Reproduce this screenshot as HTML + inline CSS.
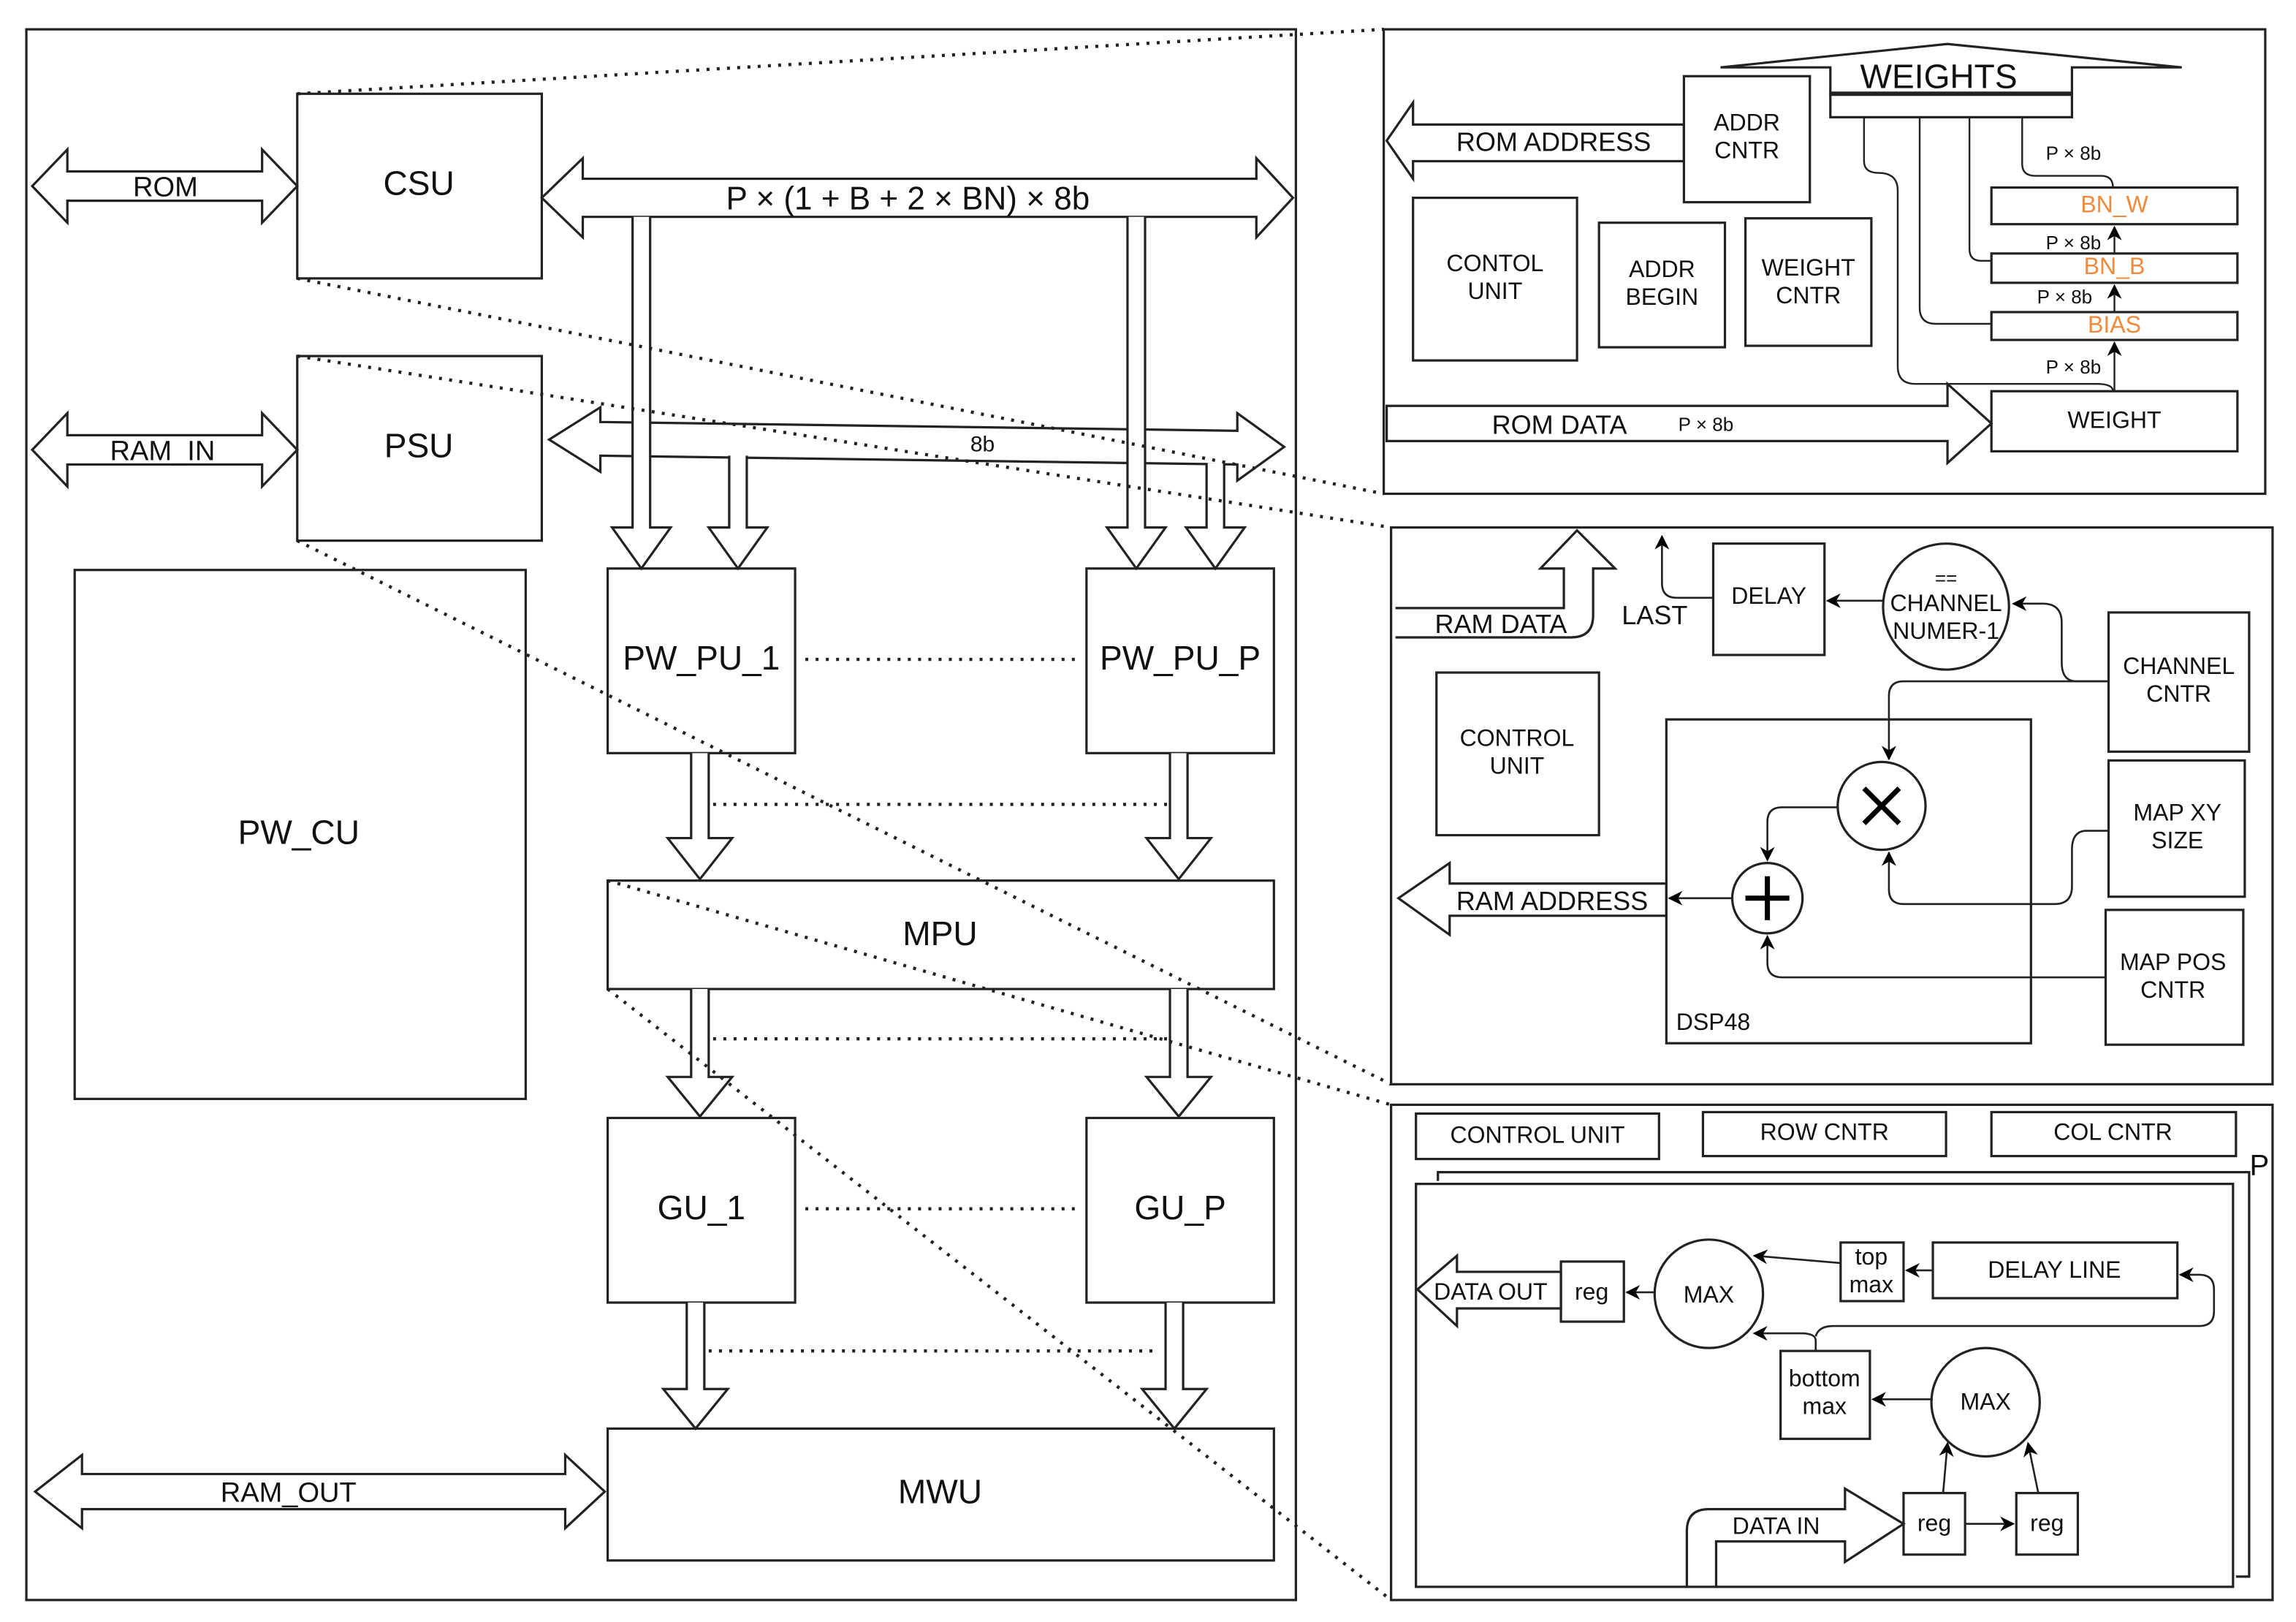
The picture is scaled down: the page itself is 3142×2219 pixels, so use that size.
<!DOCTYPE html>
<html><head><meta charset="utf-8"><style>
html,body{margin:0;padding:0;background:#fff;}
svg{display:block;}
text{font-family:"Liberation Sans",sans-serif;fill:#111;}
</style></head><body>
<svg width="3142" height="2219" viewBox="0 0 1568 1107" preserveAspectRatio="none" xmlns="http://www.w3.org/2000/svg">
<defs>
<marker id="ah" markerWidth="10" markerHeight="10" refX="9" refY="5" orient="auto" markerUnits="userSpaceOnUse"><path d="M0,0 L10,5 L0,10 L3,5 z" fill="#000"/></marker>
</defs>
<g fill="none" stroke="#222" stroke-width="1.6">
<rect x="18" y="20" width="867" height="1072"/>
<rect x="203" y="64" width="167" height="126"/>
<rect x="203" y="243" width="167" height="126"/>
<rect x="51" y="389" width="308" height="361"/>
<rect x="415" y="388" width="128" height="126"/>
<rect x="742" y="388" width="128" height="126"/>
<rect x="415" y="601" width="455" height="74"/>
<rect x="415" y="763" width="128" height="126"/>
<rect x="742" y="763" width="128" height="126"/>
<rect x="415" y="975" width="455" height="90"/>
<path d="M22,127 L46,102 V117 H179 V102 L203,127 L179,152 V137 H46 V152 Z"/>
<path d="M22,307 L46,282 V297 H179 V282 L203,307 L179,332 V317 H46 V317 V332 Z"/>
<path d="M24,1018 L56,993 V1006 H386 V993 L413,1018 L386,1043 V1030 H56 V1043 Z"/>
<path d="M370,135 L398,108 V122 H858 V108 L883,135 L858,162 V148 H398 V162 Z" fill="#fff"/>
<path d="M375,300 L410,278 V288 L845,294 V282 L877,305 L845,328 V317 L410,311 V322 Z" fill="#fff"/>
<path d="M432,148 V360 H418 L438,388 L458,360 H444 V148" fill="#fff"/>
<path d="M770,148 V360 H756 L776,388 L796,360 H782 V148" fill="#fff"/>
<path d="M498,311 V360 H484 L504,388 L524,360 H510 V311" fill="#fff"/>
<path d="M824,316 V360 H810 L830,388 L850,360 H836 V316" fill="#fff"/>
<path d="M472,514 V572 H456 L478,600 L500,572 H484 V514" fill="#fff"/>
<path d="M799,514 V572 H783 L805,600 L827,572 H811 V514" fill="#fff"/>
<path d="M472,675 V735 H456 L478,762 L500,735 H484 V675" fill="#fff"/>
<path d="M799,675 V735 H783 L805,762 L827,735 H811 V675" fill="#fff"/>
<path d="M469,889 V948 H453 L475,975 L497,948 H481 V889" fill="#fff"/>
<path d="M796,889 V948 H780 L802,975 L824,948 H808 V889" fill="#fff"/>
</g>
<g stroke="#222" stroke-width="2.2" stroke-dasharray="2,5" fill="none">
<line x1="550" y1="450" x2="735" y2="450"/>
<line x1="487" y1="549" x2="800" y2="549"/>
<line x1="487" y1="709" x2="800" y2="709"/>
<line x1="550" y1="825" x2="735" y2="825"/>
<line x1="484" y1="922" x2="790" y2="922"/>
<line x1="203" y1="64" x2="945" y2="20"/>
<line x1="203" y1="190" x2="945" y2="337"/>
<line x1="203" y1="243" x2="950" y2="360"/>
<line x1="203" y1="369" x2="950" y2="740"/>
<line x1="415" y1="601" x2="950" y2="754"/>
<line x1="415" y1="675" x2="950" y2="1092"/>
</g>
<g font-size="23" text-anchor="middle">
<text x="286" y="133">CSU</text>
<text x="286" y="312">PSU</text>
<text x="204" y="576">PW_CU</text>
<text x="479" y="457">PW_PU_1</text>
<text x="806" y="457">PW_PU_P</text>
<text x="642" y="645">MPU</text>
<text x="479" y="832">GU_1</text>
<text x="806" y="832">GU_P</text>
<text x="642" y="1026">MWU</text>
<text x="620" y="143" font-size="22">P × (1 + B + 2 × BN) × 8b</text>
</g>
<g font-size="19" text-anchor="middle">
<text x="113" y="134">ROM</text>
<text x="111" y="314">RAM_IN</text>
<text x="197" y="1025">RAM_OUT</text>
<text x="671" y="308" font-size="15">8b</text>
</g>

<g fill="none" stroke="#222" stroke-width="1.6">
<rect x="945" y="20" width="602" height="317"/>
<path d="M1175,46 L1330,30 L1490,46 H1415 V64 H1250 V46 Z" fill="#fff"/>
<line x1="1250" y1="64" x2="1415" y2="64" stroke-width="3"/>
<rect x="1250" y="64" width="165" height="16"/>
<path d="M947,96 L965,70 V85 H1150 V110 H965 V122 Z"/>
<rect x="1150" y="52" width="86" height="86"/>
<rect x="965" y="135" width="112" height="111"/>
<rect x="1092" y="152" width="86" height="85"/>
<rect x="1192" y="149" width="86" height="87"/>
<rect x="1360" y="128" width="168" height="25"/>
<rect x="1360" y="173" width="168" height="20"/>
<rect x="1360" y="213" width="168" height="19"/>
<rect x="1360" y="267" width="168" height="41"/>
<path d="M947,277 H1330 V262 L1360,289 L1330,316 V301 H947 Z"/>
<g stroke-width="1.2">
<path d="M1273,80 V110 Q1273,118 1283,118 Q1296,118 1296,130 V250 Q1296,262 1308,262 H1432 Q1443,262 1443,267"/>
<path d="M1311,80 V210 Q1311,221 1322,221 H1360"/>
<path d="M1345,80 V170 Q1345,178 1353,178 H1360"/>
<path d="M1381,80 V112 Q1381,120 1390,120 H1435 Q1443,120 1443,128"/>
<line x1="1444" y1="267" x2="1444" y2="234" marker-end="url(#ah)"/>
<line x1="1444" y1="213" x2="1444" y2="195" marker-end="url(#ah)"/>
<line x1="1444" y1="173" x2="1444" y2="155" marker-end="url(#ah)"/>
</g>
</g>
<g font-size="16" text-anchor="middle">
<text x="1324" y="60" font-size="23">WEIGHTS</text>
<text x="1061" y="103" font-size="18">ROM ADDRESS</text>
<text x="1193" y="89">ADDR</text><text x="1193" y="108">CNTR</text>
<text x="1021" y="185">CONTOL</text><text x="1021" y="204">UNIT</text>
<text x="1135" y="189">ADDR</text><text x="1135" y="208">BEGIN</text>
<text x="1235" y="188">WEIGHT</text><text x="1235" y="207">CNTR</text>
<text x="1444" y="145" style="fill:#f08a3c">BN_W</text>
<text x="1444" y="187" style="fill:#f08a3c">BN_B</text>
<text x="1444" y="227" style="fill:#f08a3c">BIAS</text>
<text x="1444" y="292">WEIGHT</text>
<text x="1065" y="296" font-size="18">ROM DATA</text>
<g font-size="13"><text x="1165" y="294">P × 8b</text>
<text x="1416" y="109">P × 8b</text>
<text x="1416" y="170">P × 8b</text>
<text x="1410" y="207">P × 8b</text>
<text x="1416" y="255">P × 8b</text></g>
</g>

<g fill="none" stroke="#222" stroke-width="1.6">
<rect x="950" y="360" width="602" height="380"/>
<path d="M953,415 H1068 V388 H1052 L1077,362 L1103,388 H1088 V420 Q1088,435 1073,435 H953"/>
<rect x="1170" y="371" width="76" height="76"/>
<circle cx="1329" cy="414" r="43"/>
<rect x="1440" y="418" width="96" height="95"/>
<rect x="981" y="459" width="111" height="111"/>
<rect x="1138" y="491" width="249" height="221"/>
<circle cx="1285" cy="550" r="30"/>
<circle cx="1207" cy="613" r="24"/>
<rect x="1440" y="519" width="93" height="93"/>
<rect x="1438" y="621" width="94" height="92"/>
<path d="M955,613 L990,589 V603 H1138 V625 H990 V638 Z"/>
<g stroke-width="1.3">
<path d="M1170,408 H1145 Q1135,408 1135,398 V366" marker-end="url(#ah)"/>
<line x1="1286" y1="410" x2="1248" y2="410" marker-end="url(#ah)"/>
<path d="M1440,465 H1418 Q1408,465 1408,452 V425 Q1408,412 1395,412 H1375" marker-end="url(#ah)"/>
<path d="M1440,465 H1300 Q1290,465 1290,475 V518" marker-end="url(#ah)"/>
<path d="M1440,567 H1425 Q1415,567 1415,580 V605 Q1415,617 1403,617 H1300 Q1290,617 1290,607 V582" marker-end="url(#ah)"/>
<path d="M1438,667 H1217 Q1207,667 1207,657 V639" marker-end="url(#ah)"/>
<path d="M1255,551 H1217 Q1207,551 1207,561 V587" marker-end="url(#ah)"/>
<line x1="1183" y1="613" x2="1140" y2="613" marker-end="url(#ah)"/>
</g>
<g stroke="#000" stroke-width="3.5">
<line x1="1273" y1="538" x2="1297" y2="562"/><line x1="1297" y1="538" x2="1273" y2="562"/>
<line x1="1207" y1="598" x2="1207" y2="628"/><line x1="1192" y1="613" x2="1222" y2="613"/>
</g>
</g>
<g font-size="16" text-anchor="middle">
<text x="1025" y="432" font-size="18">RAM DATA</text>
<text x="1130" y="426" font-size="18">LAST</text>
<text x="1208" y="412">DELAY</text>
<text x="1329" y="399" font-size="13">==</text>
<text x="1329" y="417">CHANNEL</text>
<text x="1329" y="436">NUMER-1</text>
<text x="1488" y="460">CHANNEL</text><text x="1488" y="479">CNTR</text>
<text x="1036" y="509">CONTROL</text><text x="1036" y="528">UNIT</text>
<text x="1487" y="560">MAP XY</text><text x="1487" y="579">SIZE</text>
<text x="1484" y="662">MAP POS</text><text x="1484" y="681">CNTR</text>
<text x="1060" y="621" font-size="18">RAM ADDRESS</text>
<text x="1170" y="703">DSP48</text>
</g>

<g fill="none" stroke="#222" stroke-width="1.6">
<rect x="950" y="754" width="602" height="338"/>
<rect x="967" y="760" width="166" height="31"/>
<rect x="1163" y="759" width="166" height="30"/>
<rect x="1360" y="759" width="167" height="30"/>
<path d="M982,806 V800 H1536 V1076 H1527"/>
<rect x="967" y="808" width="558" height="275"/>
<path d="M968,880 L995,857 V868 H1066 V893 H995 V905 Z"/>
<rect x="1066" y="861" width="43" height="41"/>
<circle cx="1167" cy="883" r="37"/>
<rect x="1257" y="848" width="43" height="40"/>
<rect x="1320" y="848" width="167" height="38"/>
<rect x="1216" y="922" width="61" height="60"/>
<circle cx="1356" cy="957" r="37"/>
<rect x="1300" y="1019" width="42" height="42"/>
<rect x="1377" y="1019" width="42" height="42"/>
<path d="M1152,1083 V1045 Q1152,1030 1167,1030 H1260 V1016 L1300,1040 L1260,1066 V1052 H1172 V1083"/>
<g stroke-width="1.3">
<line x1="1130" y1="882" x2="1111" y2="882" marker-end="url(#ah)"/>
<line x1="1257" y1="862" x2="1198" y2="857" marker-end="url(#ah)"/>
<line x1="1320" y1="867" x2="1302" y2="867" marker-end="url(#ah)"/>
<path d="M1240,922 V915 Q1240,910 1230,910 H1198" marker-end="url(#ah)"/>
<path d="M1240,912 Q1242,905 1252,905 H1502 Q1512,905 1512,895 V880 Q1512,870 1502,870 H1489" marker-end="url(#ah)"/>
<line x1="1320" y1="955" x2="1279" y2="955" marker-end="url(#ah)"/>
<line x1="1327" y1="1019" x2="1330" y2="985" marker-end="url(#ah)"/>
<line x1="1392" y1="1019" x2="1385" y2="985" marker-end="url(#ah)"/>
<line x1="1342" y1="1040" x2="1375" y2="1040" marker-end="url(#ah)"/>
</g>
</g>
<g font-size="16" text-anchor="middle">
<text x="1050" y="780">CONTROL UNIT</text>
<text x="1246" y="778">ROW CNTR</text>
<text x="1443" y="778">COL CNTR</text>
<text x="1543" y="802" font-size="20">P</text>
<text x="1018" y="887">DATA OUT</text>
<text x="1087" y="887">reg</text>
<text x="1167" y="889">MAX</text>
<text x="1278" y="863">top</text><text x="1278" y="882">max</text>
<text x="1403" y="872">DELAY LINE</text>
<text x="1246" y="946">bottom</text><text x="1246" y="965">max</text>
<text x="1356" y="962">MAX</text>
<text x="1213" y="1047">DATA IN</text>
<text x="1321" y="1045">reg</text>
<text x="1398" y="1045">reg</text>
</g>
</svg>
</body></html>
